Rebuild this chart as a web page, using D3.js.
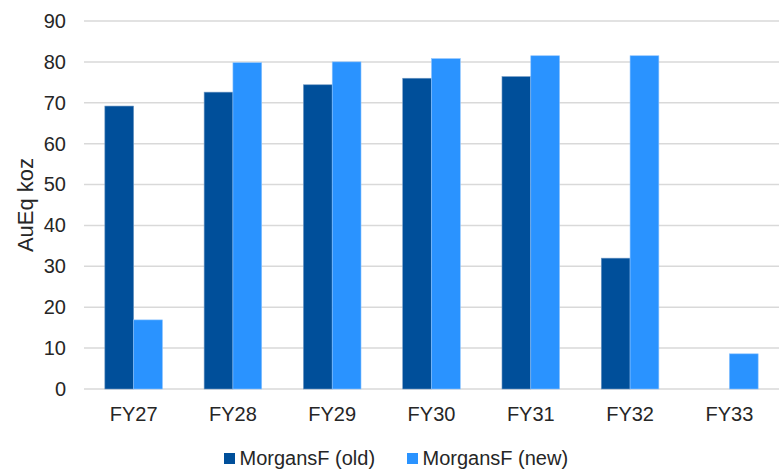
<!DOCTYPE html>
<html lang="en">
<head>
<meta charset="UTF-8"/>
<title>MorgansF AuEq koz</title>
<script src="https://d3js.org/d3.v7.min.js"></script>
<style>
	body { margin: 0; background: #fff; }
	text { font-family: "Liberation Sans", Arial, sans-serif; fill: #262626; }
</style>
</head>
<body>
<script>
	var w = 779;
	var h = 471;

	var categories = ["FY27", "FY28", "FY29", "FY30", "FY31", "FY32", "FY33"];
	var seriesNames = ["MorgansF (old)", "MorgansF (new)"];
	var oldValues = [69.2, 72.6, 74.4, 76.0, 76.4, 32.0, null];
	var newValues = [16.9, 79.8, 80.0, 80.8, 81.5, 81.5, 8.6];
	var yTicks = [0, 10, 20, 30, 40, 50, 60, 70, 80, 90];
	var colors = ["#004f9a", "#2a93ff"];

	var plotLeft = 84, plotRight = 779, plotTop = 21, plotBottom = 389;

	var xScale = d3.scaleBand()
		.domain(categories)
		.range([plotLeft, plotRight])
		.paddingInner(0.42)
		.paddingOuter(0.21);

	var xSub = d3.scaleBand()
		.domain([0, 1])
		.range([0, xScale.bandwidth()]);

	var yScale = d3.scaleLinear()
		.domain([0, 90])
		.range([plotBottom, plotTop]);

	var svg = d3.select("body")
		.append("svg")
		.attr("width", w)
		.attr("height", h);

	// gridlines
	svg.append("g")
		.selectAll("line")
		.data(yTicks)
		.enter()
		.append("line")
		.attr("x1", plotLeft)
		.attr("x2", plotRight)
		.attr("y1", function(d){ return yScale(d); })
		.attr("y2", function(d){ return yScale(d); })
		.attr("stroke", "#d9d9d9")
		.attr("stroke-width", 1.5);

	var yAxis = d3.axisLeft(yScale)
		.tickValues(yTicks)
		.tickSize(0)
		.tickPadding(18);

	var gy = svg.append("g")
		.attr("transform", "translate(" + plotLeft + ",0)")
		.call(yAxis)
		.attr("font-family", null);
	gy.select(".domain").remove();
	gy.selectAll("text").attr("font-size", 20).attr("fill", "#262626");

	var xAxis = d3.axisBottom(xScale)
		.tickSize(0)
		.tickPadding(18);

	var gx = svg.append("g")
		.attr("transform", "translate(0," + plotBottom + ")")
		.call(xAxis)
		.attr("font-family", null);
	gx.select(".domain").remove();
	gx.selectAll("text").attr("font-size", 20).attr("fill", "#262626");

	var allSeries = [oldValues, newValues];

	allSeries.forEach(function(values, s) {
		svg.append("g")
			.selectAll("rect")
			.data(values.map(function(v, i){ return { cat: categories[i], v: v }; })
				.filter(function(d){ return d.v !== null; }))
			.enter()
			.append("rect")
			.attr("x", function(d){ return xScale(d.cat) + xSub(s); })
			.attr("y", function(d){ return yScale(d.v); })
			.attr("width", xSub.bandwidth())
			.attr("height", function(d){ return plotBottom - yScale(d.v); })
			.attr("fill", colors[s])
			.attr("stroke", s === 0 ? "#6f98c4" : "#8cc4ff")
			.attr("stroke-width", 0.6);
	});

	// y axis title
	svg.append("text")
		.attr("text-anchor", "middle")
		.attr("transform", "translate(33," + ((plotTop + plotBottom) / 2) + ") rotate(-90)")
		.attr("font-size", 22)
		.text("AuEq koz");

	// legend
	var legendX = [224, 407];
	var legend = svg.append("g");
	seriesNames.forEach(function(name, i) {
		legend.append("rect")
			.attr("x", legendX[i])
			.attr("y", 453)
			.attr("width", 11)
			.attr("height", 11)
			.attr("fill", colors[i]);
		legend.append("text")
			.attr("x", legendX[i] + 15.5)
			.attr("y", 465)
			.attr("font-size", 20)
			.text(name);
	});
</script>
</body>
</html>
